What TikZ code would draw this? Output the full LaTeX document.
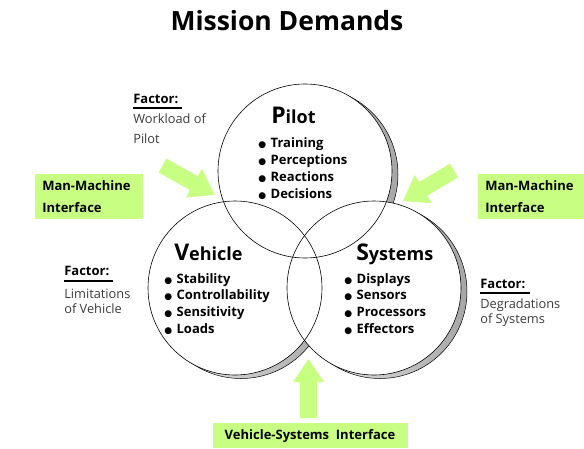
\documentclass[tikz,border=0pt]{standalone}
\usepackage{fontspec}
\setmainfont{Open Sans}
\newfontfamily\dejavu{DejaVu Sans}
\definecolor{limeg}{RGB}{200,255,130}
\definecolor{ftxt}{RGB}{60,60,60}
\newcommand\bul{{\dejavu\fontsize{9}{9}\selectfont ●}\hspace{4.5pt}}
\newcommand\bigfirst[2]{{\fontsize{23}{23}\selectfont #1}{\fontsize{18}{18}\selectfont #2}}
\begin{document}
\begin{tikzpicture}[x=1pt,y=-1pt,line width=0.6pt,
  item/.style={anchor=base west,inner sep=0pt,font=\bfseries\fontsize{13}{13}\selectfont},
  ctitle/.style={anchor=base west,inner sep=0pt,font=\bfseries},
  factor/.style={anchor=base west,inner sep=0pt,font=\bfseries\fontsize{13}{13}\selectfont},
  ftext/.style={anchor=base west,inner sep=0pt,text=ftxt,font=\fontsize{12.8}{12.8}\selectfont},
  greenbox/.style={fill=limeg,inner xsep=7pt,inner ysep=0pt,anchor=north west,align=left,
     font=\bfseries\fontsize{13}{21.5}\selectfont},
  shadowc/.style={left color=gray!10,right color=gray!70,draw=black,line width=0.5pt},
  garrow/.style={fill=limeg}]
\useasboundingbox (0,0) rectangle (584,448);
% title
\node[anchor=base,inner sep=0pt,font=\bfseries\fontsize{26.5}{26.5}\selectfont] (title) at (287,30) {Mission Demands};
% circle centres
\coordinate (cp) at (305,171);
\coordinate (cv) at (235,288);
\coordinate (cs) at (374,288);
% shadows
\foreach \c in {cp,cv,cs}{
  \path[shadowc] ([xshift=6pt,yshift=-3.5pt]\c) circle[radius=87pt];
}
\foreach \c in {cp,cv,cs}{
  \fill[white] (\c) circle[radius=87pt];
}
\foreach \c in {cp,cv,cs}{
  \draw[black] (\c) circle[radius=87pt];
}
% circle titles
\node[ctitle] (tp) at (271,123) {\bigfirst{P}{ilot}};
\node[ctitle] (tv) at (174,260) {\bigfirst{V}{ehicle}};
\node[ctitle] (ts) at (356,260) {\bigfirst{S}{ystems}};
% items
\foreach \t [count=\i] in {Training,Perceptions,Reactions,Decisions}
  \node[item] (p\i) at (258,{147.7+16.8*(\i-1)}) {\bul\t};
\foreach \t [count=\i] in {Stability,Controllability,Sensitivity,Loads}
  \node[item] (v\i) at (164,{283.3+16.6*(\i-1)}) {\bul\t};
\foreach \t [count=\i] in {Displays,Sensors,Processors,Effectors}
  \node[item] (s\i) at (344,{283.3+16.6*(\i-1)}) {\bul\t};
% factors
\node[factor] (f1) at (133,103.3) {Factor:};
\draw[line width=1.8pt] ([yshift=-4.5pt]f1.base west) -- ++(49,0);
\node[ftext] (f1a) at (133,123.3) {Workload of};
\node[ftext] (f1b) at (133,143.3) {Pilot};
\node[factor] (f2) at (64,275.3) {Factor:};
\draw[line width=1.8pt] ([yshift=-5.5pt]f2.base west) -- ++(49,0);
\node[ftext] (f2a) at (64,298.3) {Limitations};
\node[ftext] (f2b) at (64,313.3) {of Vehicle};
\node[factor] (f3) at (480,288.3) {Factor:};
\draw[line width=1.8pt] ([yshift=-4.5pt]f3.base west) -- ++(50,0);
\node[ftext] (f3a) at (480,308.3) {Degradations};
\node[ftext] (f3b) at (480,323.3) {of Systems};
% green boxes
\node[greenbox,minimum width=108pt,minimum height=45pt,text width=94pt] (mm1) at (35,174) {Man-Machine\\Interface};
\node[greenbox,minimum width=106pt,minimum height=45pt,text width=92pt] (mm2) at (478,174) {Man-Machine\\Interface};
\node[fill=limeg,inner sep=0pt,minimum width=195pt,minimum height=25pt,anchor=north west] (vsbox) at (213,423) {};
\node[anchor=base,inner sep=0pt,font=\bfseries\fontsize{13}{13}\selectfont] (vstext) at (310,439) {Vehicle-Systems\ \ Interface};
% green arrows
\begin{scope}[shift={(162.5,165.5)},rotate=-29.3]
  \fill[garrow] (0,-8) -- (36,-8) -- (36,-16.5) -- (60,0) -- (36,16.5) -- (36,8) -- (0,8) -- cycle;
\end{scope}
\begin{scope}[shift={(454,170.5)},rotate=210.9]
  \fill[garrow] (0,-8) -- (36,-8) -- (36,-16.5) -- (59.5,0) -- (36,16.5) -- (36,8) -- (0,8) -- cycle;
\end{scope}
\begin{scope}[shift={(308.5,418)},rotate=90]
  \fill[garrow] (0,-8.5) -- (36,-8.5) -- (36,-15.5) -- (59,0) -- (36,15.5) -- (36,8.5) -- (0,8.5) -- cycle;
\end{scope}
\end{tikzpicture}
\end{document}
